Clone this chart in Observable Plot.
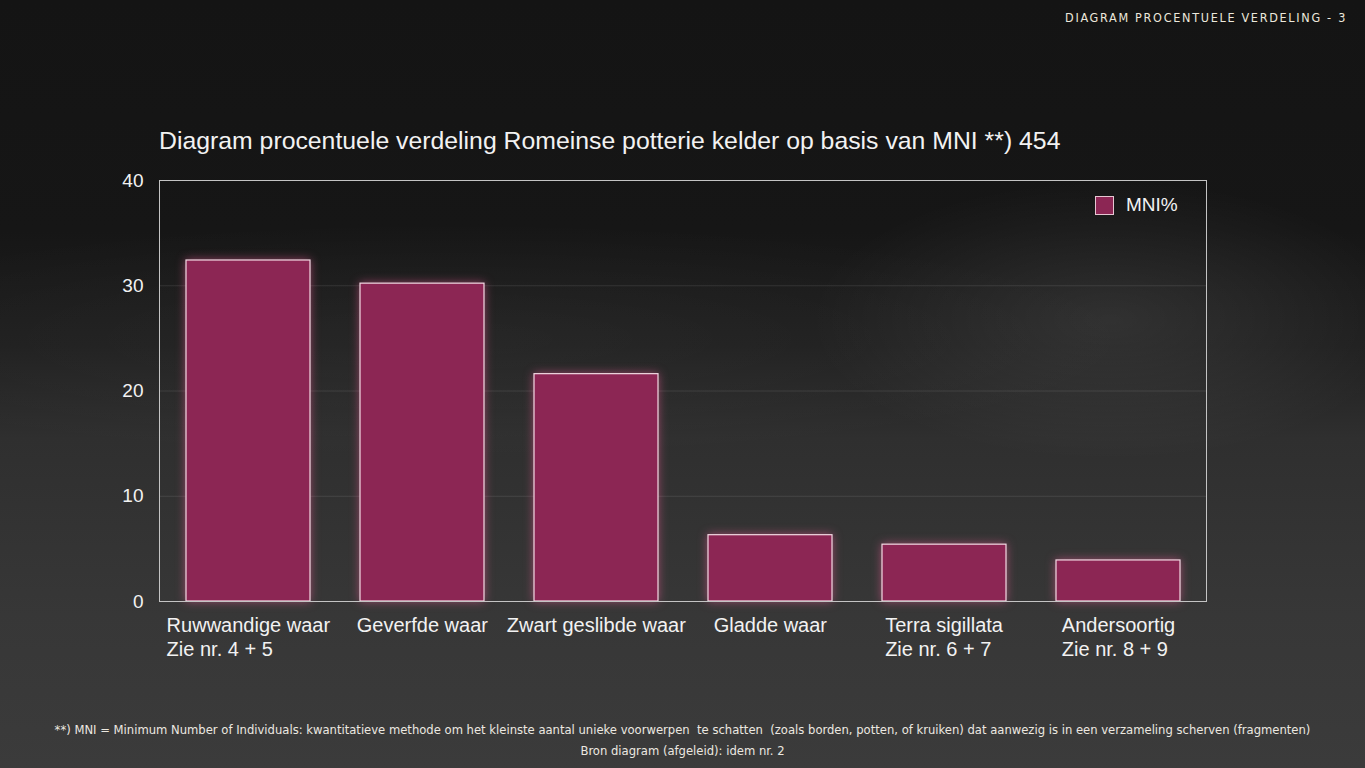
<!DOCTYPE html>
<html>
<head>
<meta charset="utf-8">
<script src="https://cdn.jsdelivr.net/npm/d3@7"></script>
<script src="https://cdn.jsdelivr.net/npm/@observablehq/plot@0.6"></script>
<style>
  html, body { margin:0; padding:0; }
  body {
    width:1365px; height:768px; overflow:hidden; position:relative;
    font-family: "Liberation Sans", Arial, sans-serif;
    background:
      radial-gradient(ellipse 300px 140px at 1110px 320px, rgba(255,255,255,0.09), rgba(255,255,255,0) 100%),
      radial-gradient(ellipse 700px 120px at 450px 340px, rgba(255,255,255,0.04), rgba(255,255,255,0) 100%),
      linear-gradient(180deg, #141414 0%, #161616 30%, #1f1f1f 45%, #2f2f2f 57%, #373737 80%, #3b3b3b 100%);
  }
  #header { position:absolute; right:18px; top:10px; color:#ece8dc; font-family:"DejaVu Sans Condensed","DejaVu Sans",sans-serif; font-size:12.5px; letter-spacing:1.7px; text-transform:uppercase; }
  #title { position:absolute; left:159px; top:127px; color:#f2f2f2; font-size:24.8px; white-space:nowrap; }
  #chart { position:absolute; left:0; top:170px; }
  #legend { position:absolute; left:1095px; top:194px; display:flex; align-items:center; color:#f2f2f2; font-size:19px; }
  #legend .sw { width:17px; height:17px; background:#8c2654; border:1px solid #e6c6d2; margin-right:12px; }
  #footer { position:absolute; left:0; width:1365px; top:719px; text-align:center; color:#ece8e0; font-family:"Liberation Sans Narrow","DejaVu Sans Condensed",sans-serif; font-size:12.9px; line-height:21px; white-space:pre; }
  g[aria-label="bar"] rect { filter: drop-shadow(0 0 5px rgba(235,90,150,0.55)); }
</style>
</head>
<body>
<div id="header">Diagram procentuele verdeling - 3</div>
<div id="title">Diagram procentuele verdeling Romeinse potterie kelder op basis van MNI **) 454</div>
<div id="chart"></div>
<div id="legend"><div class="sw"></div><span>MNI%</span></div>
<div id="footer">**) MNI = Minimum Number of Individuals: kwantitatieve methode om het kleinste aantal unieke voorwerpen  te schatten  (zoals borden, potten, of kruiken) dat aanwezig is in een verzameling scherven (fragmenten)
Bron diagram (afgeleid): idem nr. 2</div>
<script>
const names = ["Ruwwandige waar", "Geverfde waar", "Zwart geslibde waar", "Gladde waar", "Terra sigillata", "Andersoortig"];
const refs = ["Zie nr. 4 + 5", "", "", "", "Zie nr. 6 + 7", "Zie nr. 8 + 9"];
const mniPercent = [32.4, 30.2, 21.6, 6.3, 5.4, 3.9];
const yTicks = [0, 10, 20, 30, 40];
const gridTicks = [10, 20, 30];

const labels = names.map((n, i) => refs[i] ? n + "\n" + refs[i] : n);
const data = labels.map((l, i) => ({cat: l, value: mniPercent[i]}));

const chart = Plot.plot({
  width: 1365,
  height: 511,
  marginTop: 10,
  marginBottom: 80,
  marginLeft: 159,
  marginRight: 159,
  style: {background: "transparent", color: "#f2f2f2", fontSize: "19px", fontFamily: "'Liberation Sans', Arial, sans-serif", overflow: "visible"},
  x: {domain: labels, paddingInner: 0.29, paddingOuter: 0.15, axis: null},
  y: {domain: [0, 40], axis: null},
  marks: [
    Plot.gridY(gridTicks, {stroke: "#ffffff", strokeOpacity: 0.1}),
    Plot.barY(data, {x: "cat", y: "value", fill: "#8c2654", stroke: "#f3dbe4", strokeWidth: 1.2}),
    Plot.frame({stroke: "#c4c4c4"}),
    Plot.axisY({ticks: yTicks, tickSize: 0, tickPadding: 16, fill: "#f2f2f2", label: null}),
    Plot.axisX({tickSize: 0, tickPadding: 13, lineAnchor: "top", textAnchor: "start", lineHeight: 1.2, fill: "#f2f2f2", fontSize: 20, label: null})
  ]
});
document.getElementById("chart").appendChild(chart);

// center each label block on its band, lines left-aligned (like the source)
chart.querySelectorAll('g[aria-label="x-axis tick label"] text').forEach(t => {
  const w = t.getBBox().width;
  const tr = t.getAttribute("transform") || "";
  t.setAttribute("transform", tr + ` translate(${-w / 2},0)`);
});
</script>
</body>
</html>
